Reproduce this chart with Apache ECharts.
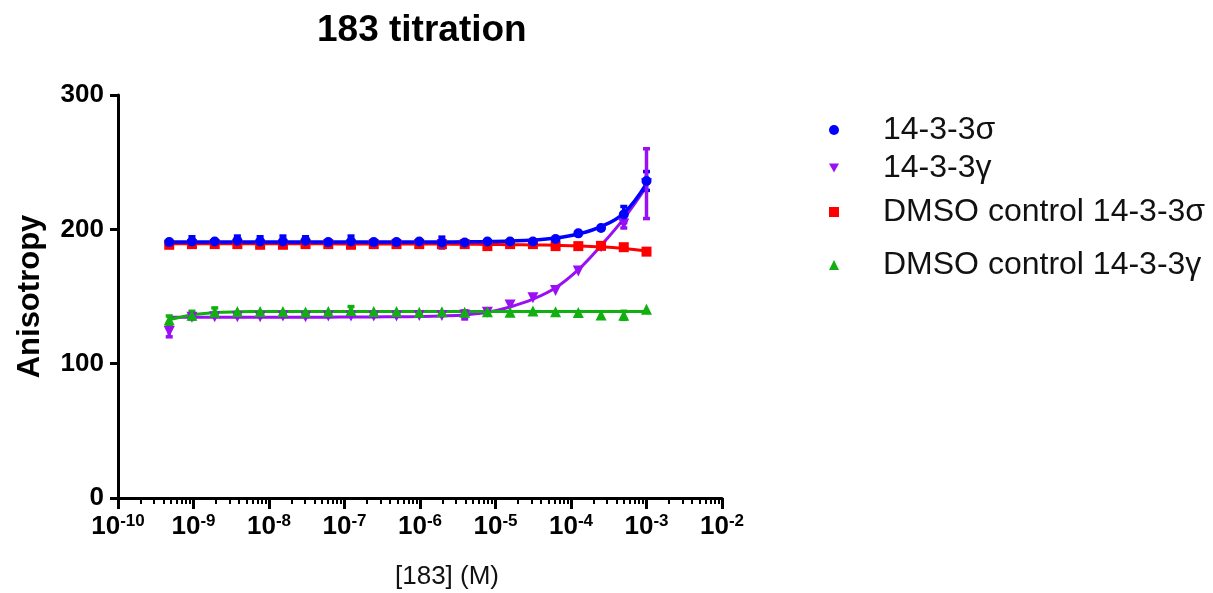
<!DOCTYPE html>
<html><head><meta charset="utf-8">
<script src="https://cdn.jsdelivr.net/npm/echarts@6/dist/echarts.min.js"></script>
<style>html,body{margin:0;padding:0;background:#fff}#c{width:1213px;height:593px}</style>
</head><body><div id="c"></div>
<script>
// Concentrations of 183 (M)
const conc = [4.77e-10, 9.54e-10, 1.91e-9, 3.81e-9, 7.63e-9, 1.53e-8, 3.05e-8, 6.10e-8, 1.22e-7, 2.44e-7, 4.88e-7,
  9.77e-7, 1.95e-6, 3.91e-6, 7.81e-6, 1.56e-5, 3.13e-5, 6.25e-5, 1.25e-4, 2.5e-4, 5e-4, 1e-3];
// Measured anisotropy (mean) per series
const sigma    = [190.5, 191, 191, 191.5, 191, 191, 191.5, 190.5, 191, 190.5, 190.5, 191, 190.2, 190.2, 191, 191, 191, 192.8, 197, 201, 211, 236];
const gamma    = [124, 134.5, 135, 135, 135, 135.5, 135, 135.5, 135.5, 135.5, 135.5, 135.8, 135.8, 136.3, 138.3, 143.7, 149, 154.5, 169, 187, 204, 234];
const dmsoSig  = [188.5, 189, 189, 189, 188.5, 188.5, 189, 189, 188.5, 189, 189, 189, 189, 189, 187.5, 189, 189, 187.5, 187.5, 187.7, 186.7, 183.4];
const dmsoGam  = [132.5, 136, 138.5, 138.8, 138.8, 138.8, 138.5, 138.8, 139.5, 138.8, 138.8, 138.3, 138.7, 138.3, 138.7, 138.3, 139.2, 138.7, 138, 136.3, 136, 140.5];
// Error (SD); 0 = no visible bar
const sigmaErr   = [0, 3.5, 0, 3.5, 3.5, 4, 3, 0, 4, 0, 0, 0, 4, 0, 0, 0, 0, 0, 0, 0, 6, 7];
const gammaErr   = [4, 0, 0, 0, 0, 0, 0, 0, 0, 0, 0, 0, 0, 3, 0, 0, 0, 0, 0, 0, 3, 26];
const dmsoSigErr = [0, 0, 0, 0, 0, 0, 0, 0, 0, 0, 0, 0, 0, 0, 2, 0, 0, 0, 0, 0, 0, 0];
const dmsoGamErr = [3, 3, 3, 0, 0, 0, 0, 0, 3, 0, 0, 0, 0, 0, 0, 0, 0, 0, 0, 0, 3, 0];
// Fitted curves at the same concentrations
const sigmaFit   = [190.6, 190.6, 190.6, 190.6, 190.6, 190.6, 190.6, 190.6, 190.6, 190.6, 190.6, 190.6, 190.6, 190.7, 190.9, 191.3, 192, 193.5, 196.5, 202, 212, 234];
const gammaFit   = [134.5, 134.5, 134.5, 134.5, 134.5, 134.5, 134.5, 134.6, 134.7, 134.8, 134.9, 135.1, 135.5, 136.3, 138.2, 142.2, 148, 156.5, 170, 188, 208, 232];
const dmsoSigFit = [189.2, 189.2, 189.2, 189.2, 189.2, 189.2, 189.2, 189.2, 189.1, 189.1, 189.1, 189, 189, 188.9, 188.8, 188.6, 188.4, 188.1, 187.7, 187, 185.8, 184];
const dmsoGamFit = [132.8, 136.3, 138, 138.6, 138.8, 138.9, 138.9, 138.9, 138.9, 138.9, 138.9, 138.9, 138.9, 138.9, 138.9, 138.9, 138.9, 138.9, 138.9, 138.9, 138.9, 138.9];
// Tick labels / axis
const xDecades = [-10, -9, -8, -7, -6, -5, -4, -3, -2];
const minorMult = [2, 3, 4, 5, 6, 7, 8, 9];
const yTicks = [0, 100, 200, 300];
const names = ['14-3-3σ', '14-3-3γ', 'DMSO control 14-3-3σ', 'DMSO control 14-3-3γ'];

const colors = ['#0000FF', '#9A10F5', '#FF0000', '#10B010'];
const symbols = ['circle', 'path://M0,0L20,0L10,18Z', 'rect', 'triangle'];
const symSizes = [10, 11, 10, 11];
const FONT = '"Liberation Sans", Arial, sans-serif';

const means = [sigma, gamma, dmsoSig, dmsoGam];
const errs = [sigmaErr, gammaErr, dmsoSigErr, dmsoGamErr];
const fits = [sigmaFit, gammaFit, dmsoSigFit, dmsoGamFit];
const lx = conc.map(c => Math.log10(c));

const minorTicks = [];
xDecades.slice(0, -1).forEach(d => minorMult.forEach(m => minorTicks.push(d + Math.log10(m))));

function renderErr(params, api) {
  const x = api.value(0), lo = api.value(1), hi = api.value(2);
  const p1 = api.coord([x, lo]), p2 = api.coord([x, hi]);
  const color = api.visual('color');
  const cw = 3.5;
  const st = { stroke: color, lineWidth: 3.5 };
  return { type: 'group', children: [
    { type: 'line', shape: { x1: p1[0], y1: p1[1], x2: p2[0], y2: p2[1] }, style: st },
    { type: 'line', shape: { x1: p1[0] - cw, y1: p1[1], x2: p1[0] + cw, y2: p1[1] }, style: st },
    { type: 'line', shape: { x1: p2[0] - cw, y1: p2[1], x2: p2[0] + cw, y2: p2[1] }, style: st }
  ]};
}

const series = [];
names.forEach((n, i) => {
  series.push({
    name: n + ' fit', type: 'line', xAxisIndex: 0, yAxisIndex: 0,
    data: lx.map((x, k) => [x, fits[i][k]]), smooth: 0.4, showSymbol: false, symbol: 'none',
    lineStyle: { color: colors[i], width: i === 0 ? 3.5 : 3 }, z: 2 + (i === 0 ? 1 : 0), silent: true
  });
  series.push({
    name: n + ' err', type: 'custom', xAxisIndex: 0, yAxisIndex: 0,
    data: lx.map((x, k) => [x, means[i][k] - errs[i][k], means[i][k] + errs[i][k]]).filter((d, k) => errs[i][k] > 0),
    renderItem: renderErr, itemStyle: { color: colors[i] }, z: 4, silent: true
  });
  series.push({
    name: n, type: 'scatter', xAxisIndex: 0, yAxisIndex: 0,
    data: lx.map((x, k) => [x, means[i][k]]),
    symbol: symbols[i], symbolSize: symSizes[i],
    itemStyle: { color: colors[i], opacity: 1 }, z: i === 0 ? 6 : 5
  });
});

const legendTops = [109, 147, 191, 244];
const legends = names.map((n, i) => ({
  data: [n], left: 824, top: legendTops[i], orient: 'vertical',
  itemWidth: 10, itemHeight: 10,
  textStyle: { fontFamily: FONT, fontSize: 32, color: '#111', padding: [0, 0, 0, 39] },
  selectedMode: false
}));

const grid = { left: 118, right: 491, top: 95, bottom: 95, containLabel: false, outerBoundsMode: 'none' };
const option = {
  backgroundColor: '#fff',
  animation: false,
  title: { text: '183 titration', left: 312, top: 7,
    textStyle: { fontFamily: FONT, fontSize: 37, fontWeight: 'bold', color: '#000' } },
  legend: legends,
  grid: [Object.assign({}, grid), Object.assign({}, grid)],
  xAxis: [{
    type: 'value', gridIndex: 0, min: -10, max: -2, interval: 1,
    name: '[183] (M)', nameLocation: 'middle', nameGap: 66,
    nameTextStyle: { fontFamily: FONT, fontSize: 26, color: '#111', padding: [0, 0, 0, 54] },
    axisLine: { lineStyle: { color: '#000', width: 3 } },
    axisTick: { length: 11, lineStyle: { color: '#000', width: 3 } },
    splitLine: { show: false },
    axisLabel: { margin: 15, color: '#000',
      formatter: v => '{b|10}{s|' + Math.round(v) + '}',
      rich: {
        b: { fontFamily: FONT, fontSize: 26, fontWeight: 'bold', color: '#000', lineHeight: 28 },
        s: { fontFamily: FONT, fontSize: 17, fontWeight: 'bold', color: '#000', lineHeight: 18, verticalAlign: 'top' }
      } }
  }, {
    type: 'value', gridIndex: 1, min: -10, max: -2,
    axisLine: { show: false }, axisLabel: { show: false }, splitLine: { show: false },
    axisTick: { show: true, length: 6, customValues: minorTicks, lineStyle: { color: '#000', width: 2 } }
  }],
  yAxis: [{
    type: 'value', gridIndex: 0, min: yTicks[0], max: yTicks[yTicks.length - 1], interval: 100,
    name: 'Anisotropy', nameLocation: 'middle', nameGap: 72,
    nameTextStyle: { fontFamily: FONT, fontSize: 31, fontWeight: 'bold', color: '#000' },
    axisLine: { show: true, lineStyle: { color: '#000', width: 3 } },
    axisTick: { show: true, length: 8, lineStyle: { color: '#000', width: 3 } },
    splitLine: { show: false },
    axisLabel: { margin: 14, fontFamily: FONT, fontSize: 26, fontWeight: 'bold', color: '#000' }
  }, {
    type: 'value', gridIndex: 1, min: 0, max: 300, show: false
  }],
  series: series
};
const chart = echarts.init(document.getElementById('c'), null, { renderer: 'canvas' });
chart.setOption(option);
</script></body></html>
